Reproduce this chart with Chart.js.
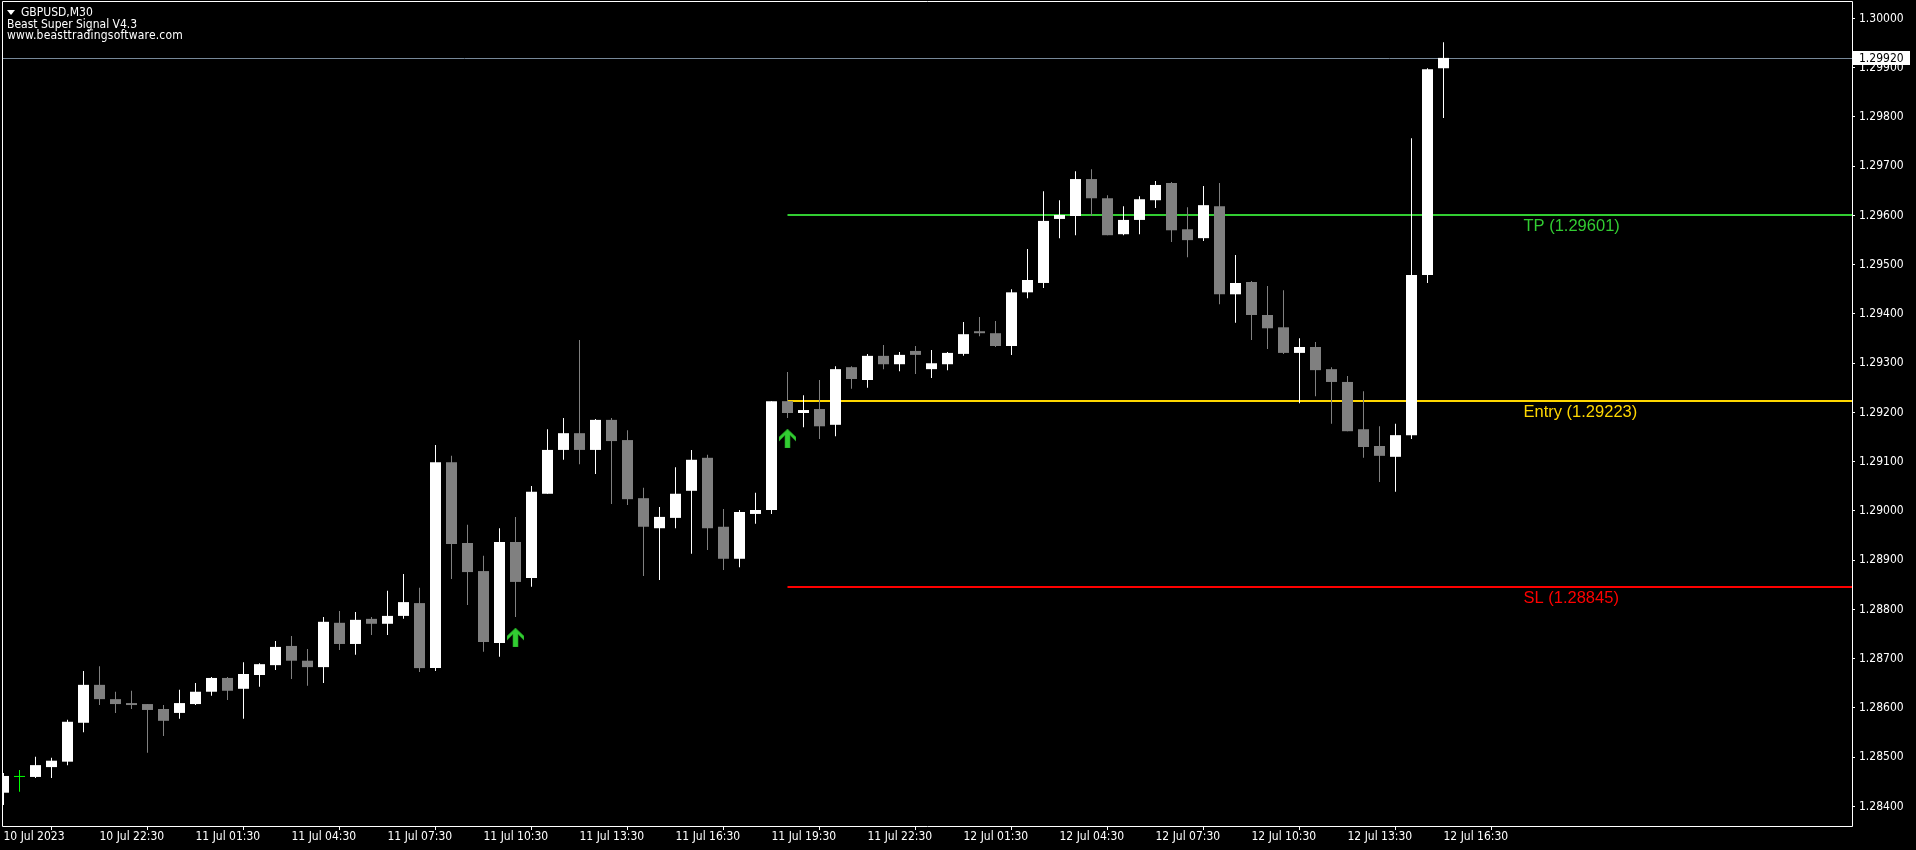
<!DOCTYPE html>
<html>
<head>
<meta charset="utf-8">
<title>GBPUSD,M30</title>
<script src="https://cdn.jsdelivr.net/npm/chart.js@4/dist/chart.umd.min.js"></script>
<style>
    html, body { margin: 0; padding: 0; background: #000; overflow: hidden; }
    #wrap { position: relative; width: 1916px; height: 850px; }
    #chart { position: absolute; left: 0; top: 0; }
    #caption {
        position: absolute; left: 7px; top: 7px;
        font-family: "DejaVu Sans Condensed", "DejaVu Sans", sans-serif;
        font-size: 12px; line-height: 11.5px; color: #fff; white-space: pre;
    }
    #caption .tri {
        display: inline-block; width: 0; height: 0; margin-right: 6px; vertical-align: 1px;
        border-left: 4px solid transparent; border-right: 4px solid transparent; border-top: 5px solid #fff;
    }
    #caption .url { letter-spacing: 0.2px; }
</style>
</head>
<body>
<div id="wrap">
    <canvas id="chart" width="1916" height="850"></canvas>
    <div id="caption"><span class="tri"></span>GBPUSD,M30
Beast Super Signal V4.3
<span class="url">www.beasttradingsoftware.com</span></div>
</div>
<script>
// M30 candles, 10 Jul 19:30 .. 12 Jul 16:30
const opens = [
    1.28428, 1.28460, 1.28460, 1.28480, 1.28491, 1.28570, 1.28647, 1.28618, 1.28610, 1.28608,
    1.28598, 1.28590, 1.28608, 1.28633, 1.28661, 1.28639, 1.28667, 1.28687, 1.28726, 1.28696,
    1.28683, 1.28773, 1.28730, 1.28781, 1.28771, 1.28787, 1.28813, 1.28681, 1.29099, 1.28935,
    1.28878, 1.28732, 1.28937, 1.28864, 1.29035, 1.29124, 1.29158, 1.29124, 1.29185, 1.29144,
    1.29026, 1.28965, 1.28986, 1.29041, 1.29108, 1.28968, 1.28903, 1.28994, 1.29002, 1.29223,
    1.29199, 1.29207, 1.29175, 1.29292, 1.29266, 1.29315, 1.29298, 1.29325, 1.29288, 1.29298,
    1.29319, 1.29365, 1.29361, 1.29335, 1.29444, 1.29463, 1.29593, 1.29599, 1.29674, 1.29635,
    1.29562, 1.29591, 1.29631, 1.29666, 1.29572, 1.29554, 1.29619, 1.29440, 1.29465, 1.29398,
    1.29373, 1.29321, 1.29333, 1.29288, 1.29262, 1.29166, 1.29132, 1.29110, 1.29154, 1.29479,
    1.29899
];
const highs = [
    1.28468, 1.28474, 1.28501, 1.28499, 1.28576, 1.28675, 1.28685, 1.28633, 1.28635, 1.28608,
    1.28606, 1.28637, 1.28651, 1.28663, 1.28663, 1.28693, 1.28691, 1.28736, 1.28746, 1.28720,
    1.28785, 1.28797, 1.28795, 1.28785, 1.28838, 1.28872, 1.28844, 1.29134, 1.29112, 1.28972,
    1.28909, 1.28965, 1.28988, 1.29051, 1.29166, 1.29189, 1.29347, 1.29187, 1.29189, 1.29164,
    1.29047, 1.29008, 1.29089, 1.29124, 1.29114, 1.29004, 1.29002, 1.29037, 1.29223, 1.29282,
    1.29235, 1.29266, 1.29294, 1.29294, 1.29319, 1.29337, 1.29323, 1.29335, 1.29327, 1.29323,
    1.29384, 1.29394, 1.29386, 1.29450, 1.29532, 1.29649, 1.29631, 1.29690, 1.29694, 1.29641,
    1.29619, 1.29639, 1.29670, 1.29668, 1.29617, 1.29660, 1.29666, 1.29520, 1.29467, 1.29457,
    1.29448, 1.29351, 1.29343, 1.29292, 1.29274, 1.29243, 1.29172, 1.29177, 1.29757, 1.29899,
    1.29952
];
const lows = [
    1.28403, 1.28430, 1.28458, 1.28458, 1.28484, 1.28551, 1.28606, 1.28590, 1.28598, 1.28509,
    1.28543, 1.28578, 1.28606, 1.28625, 1.28616, 1.28578, 1.28643, 1.28677, 1.28659, 1.28645,
    1.28651, 1.28718, 1.28708, 1.28748, 1.28748, 1.28781, 1.28673, 1.28675, 1.28862, 1.28809,
    1.28714, 1.28704, 1.28785, 1.28846, 1.29035, 1.29104, 1.29095, 1.29075, 1.29014, 1.29012,
    1.28868, 1.28860, 1.28965, 1.28913, 1.28921, 1.28880, 1.28886, 1.28974, 1.28994, 1.29189,
    1.29170, 1.29146, 1.29152, 1.29248, 1.29250, 1.29288, 1.29284, 1.29278, 1.29270, 1.29286,
    1.29315, 1.29355, 1.29333, 1.29317, 1.29432, 1.29453, 1.29554, 1.29560, 1.29599, 1.29560,
    1.29560, 1.29562, 1.29615, 1.29546, 1.29515, 1.29548, 1.29420, 1.29382, 1.29347, 1.29329,
    1.29319, 1.29219, 1.29233, 1.29177, 1.29162, 1.29108, 1.29059, 1.29039, 1.29146, 1.29463,
    1.29798
];
const closes = [
    1.28462, 1.28460, 1.28484, 1.28493, 1.28572, 1.28647, 1.28618, 1.28608, 1.28606, 1.28596,
    1.28574, 1.28610, 1.28633, 1.28661, 1.28635, 1.28669, 1.28689, 1.28724, 1.28696, 1.28683,
    1.28775, 1.28730, 1.28779, 1.28771, 1.28787, 1.28815, 1.28681, 1.29099, 1.28933, 1.28876,
    1.28734, 1.28937, 1.28856, 1.29039, 1.29124, 1.29158, 1.29124, 1.29185, 1.29142, 1.29024,
    1.28968, 1.28988, 1.29035, 1.29104, 1.28965, 1.28903, 1.28998, 1.29002, 1.29223, 1.29199,
    1.29205, 1.29172, 1.29288, 1.29268, 1.29315, 1.29298, 1.29317, 1.29317, 1.29300, 1.29321,
    1.29359, 1.29361, 1.29335, 1.29444, 1.29469, 1.29589, 1.29601, 1.29674, 1.29635, 1.29560,
    1.29591, 1.29633, 1.29662, 1.29570, 1.29550, 1.29621, 1.29440, 1.29463, 1.29398, 1.29371,
    1.29321, 1.29333, 1.29286, 1.29262, 1.29162, 1.29130, 1.29112, 1.29154, 1.29479, 1.29897,
    1.29920
];

// time axis labels, one every 6 bars
const timeTicks = [0, 6, 12, 18, 24, 30, 36, 42, 48, 54, 60, 66, 72, 78, 84, 90];
const timeLabels = [
    "10 Jul 2023", "10 Jul 22:30", "11 Jul 01:30", "11 Jul 04:30", "11 Jul 07:30", "11 Jul 10:30",
    "11 Jul 13:30", "11 Jul 16:30", "11 Jul 19:30", "11 Jul 22:30", "12 Jul 01:30", "12 Jul 04:30",
    "12 Jul 07:30", "12 Jul 10:30", "12 Jul 13:30", "12 Jul 16:30"
];
const priceTicks = [
    1.284, 1.285, 1.286, 1.287, 1.288, 1.289, 1.290, 1.291, 1.292,
    1.293, 1.294, 1.295, 1.296, 1.297, 1.298, 1.299, 1.300
];

// buy signals (arrows under the bar)
const signalBars = [32, 49];
const signalPrices = [1.28743, 1.29147];

// trade levels drawn from the signal bar
const levelNames = ["TP", "Entry", "SL"];
const levelPrices = [1.29601, 1.29223, 1.28845];
const levelColors = ["#32cd32", "#ffd700", "#ff0000"];
const levelFrom = 49;
const levelLabelAt = 95;

const lastPrice = 1.29920;

const BULL = "#ffffff";
const BEAR = "#808080";
const DOJI = "#00ff00";

const candleColor = (i) => {
    if (closes[i] > opens[i]) return BULL;
    if (closes[i] < opens[i]) return BEAR;
    return DOJI;
};
const colors = opens.map((o, i) => candleColor(i));

const bodies = opens.map((o, i) => ({ x: i, y: [Math.min(o, closes[i]), Math.max(o, closes[i])] }));
const wicks = lows.map((l, i) => ({ x: i, y: [l, highs[i]] }));
const arrows = signalBars.map((b, i) => ({ x: b, y: signalPrices[i] }));

// up arrow glyph for the signal points
function makeArrow() {
    const c = document.createElement("canvas");
    c.width = 17;
    c.height = 19;
    const g = c.getContext("2d");
    g.fillStyle = "#32cd32";
    g.beginPath();
    g.moveTo(8.5, 0);
    g.lineTo(17, 8);
    g.lineTo(17, 12);
    g.lineTo(11, 6);
    g.lineTo(11, 19);
    g.lineTo(6, 19);
    g.lineTo(6, 6);
    g.lineTo(0, 12);
    g.lineTo(0, 8);
    g.closePath();
    g.fill();
    g.strokeStyle = "#22a022";
    g.lineWidth = 0.6;
    g.stroke();
    return c;
}

const smallFont = { family: "'DejaVu Sans Condensed', 'DejaVu Sans', sans-serif", size: 12 };

const mt4Plugin = {
    id: "mt4",
    beforeDatasetsDraw(chart) {
        const { ctx, chartArea: a, scales: { x, y } } = chart;
        ctx.save();
        // current bid line
        const py = Math.round(y.getPixelForValue(lastPrice)) + 0.5;
        ctx.strokeStyle = "#778899";
        ctx.lineWidth = 1;
        ctx.beginPath();
        ctx.moveTo(a.left, py);
        ctx.lineTo(a.right, py);
        ctx.stroke();

        const x0 = x.getPixelForValue(levelFrom);
        const xl = x.getPixelForValue(levelLabelAt);
        ctx.font = "16.5px 'Liberation Sans', Arial, sans-serif";
        ctx.textAlign = "left";
        ctx.textBaseline = "alphabetic";
        levelPrices.forEach((p, i) => {
            const ly = Math.round(y.getPixelForValue(p));
            ctx.strokeStyle = levelColors[i];
            ctx.lineWidth = 2;
            ctx.beginPath();
            ctx.moveTo(x0, ly);
            ctx.lineTo(a.right, ly);
            ctx.stroke();
            ctx.fillStyle = levelColors[i];
            ctx.fillText(levelNames[i] + " (" + p.toFixed(5) + ")", xl, ly + 15.5);
        });
        ctx.restore();
    },
    afterDraw(chart) {
        const { ctx, chartArea: a, scales: { y } } = chart;
        ctx.save();
        ctx.strokeStyle = "#ffffff";
        ctx.lineWidth = 1;
        ctx.beginPath();
        ctx.moveTo(a.left + 0.5, 1.5);
        ctx.lineTo(a.right + 0.5, 1.5);
        ctx.lineTo(a.right + 0.5, a.bottom + 0.5);
        ctx.lineTo(a.left + 0.5, a.bottom + 0.5);
        ctx.closePath();
        ctx.stroke();

        // price tag on the axis
        const py = Math.round(y.getPixelForValue(lastPrice));
        ctx.fillStyle = "#ffffff";
        ctx.fillRect(a.right + 1, py - 7, 57, 14);
        ctx.fillStyle = "#000000";
        ctx.font = "12px " + smallFont.family;
        ctx.textBaseline = "middle";
        ctx.fillText(lastPrice.toFixed(5), a.right + 7, py + 0.5);
        ctx.restore();
    }
};

new Chart(document.getElementById("chart"), {
    type: "bar",
    data: {
        datasets: [
            {
                label: "body",
                data: bodies,
                backgroundColor: colors,
                borderWidth: 0,
                grouped: false,
                maxBarThickness: 11,
                minBarLength: 1,
                inflateAmount: 0,
                clip: 0
            },
            {
                label: "wick",
                data: wicks,
                backgroundColor: colors,
                borderWidth: 0,
                grouped: false,
                maxBarThickness: 1,
                minBarLength: 1,
                inflateAmount: 0,
                clip: 0
            },
            {
                type: "line",
                label: "signal",
                data: arrows,
                showLine: false,
                pointStyle: makeArrow(),
                pointRadius: 9,
                clip: 0
            }
        ]
    },
    options: {
        responsive: false,
        animation: false,
        devicePixelRatio: 1,
        layout: { autoPadding: false, padding: { left: 2, top: 2, right: 0, bottom: 0 } },
        plugins: { legend: { display: false }, tooltip: { enabled: false } },
        scales: {
            x: {
                type: "linear",
                offset: false,
                min: -1.5 / 16,
                max: -1.5 / 16 + 1850 / 16,
                afterFit: (s) => { s.height = 24; s.paddingLeft = 0; s.paddingRight = 0; },
                afterBuildTicks: (s) => { s.ticks = timeTicks.map(v => ({ value: v })); },
                ticks: {
                    autoSkip: false,
                    maxRotation: 0,
                    align: "start",
                    padding: 0,
                    color: "#ffffff",
                    font: smallFont,
                    callback: (v, i) => timeLabels[i]
                },
                grid: { drawOnChartArea: false, tickLength: 4, color: "#ffffff" },
                border: { display: false }
            },
            y: {
                position: "right",
                min: 1.283604,
                max: 1.300335,
                afterFit: (s) => { s.width = 64; s.paddingTop = 0; s.paddingBottom = 0; },
                afterBuildTicks: (s) => { s.ticks = priceTicks.map(v => ({ value: v })); },
                ticks: {
                    autoSkip: false,
                    padding: 4,
                    color: "#ffffff",
                    font: smallFont,
                    callback: (v) => v.toFixed(5)
                },
                grid: { drawOnChartArea: false, tickLength: 3, color: "#ffffff" },
                border: { display: false }
            }
        }
    },
    plugins: [mt4Plugin]
});
</script>
</body>
</html>
